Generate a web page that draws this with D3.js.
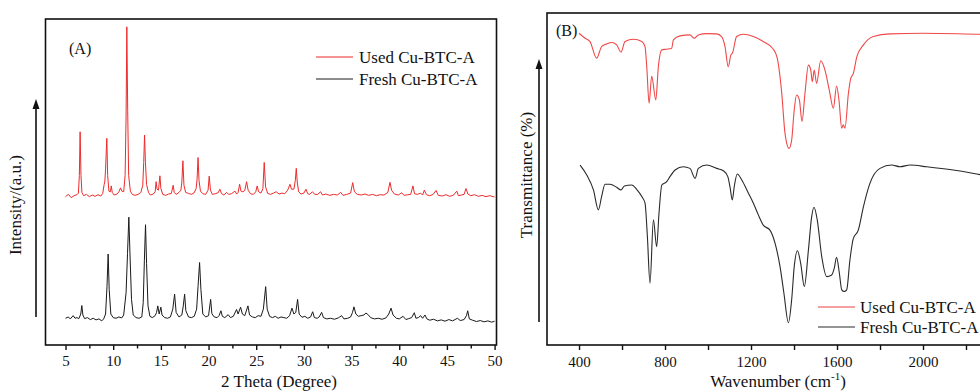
<!DOCTYPE html>
<html>
<head>
<meta charset="utf-8">
<script src="https://cdn.jsdelivr.net/npm/d3@7"></script>
<style>
  html, body { margin: 0; padding: 0; background: #fff; overflow: hidden; }
  svg { display: block; }
  text { font-family: "Times New Roman", "Liberation Serif", serif; fill: #111; }
</style>
</head>
<body>
<svg id="chart" width="980" height="391"></svg>
<script>
// ---- Panel A: XRD patterns (2θ in degrees, intensity in a.u.) ----
const usedXRD = [[5.0,455],[5.3,462],[5.6,452],[5.9,458],[6.2,461],[6.35,466],[6.45,520],[6.53,654],[6.62,520],[6.72,468],[6.9,458],[7.2,462],[7.5,455],[7.8,460],[8.1,456],[8.4,461],[8.7,457],[8.9,465],[9.05,492],[9.12,500],[9.2,540],[9.33,634],[9.42,520],[9.55,472],[9.7,470],[9.8,488],[9.9,468],[10.1,460],[10.4,463],[10.6,470],[10.77,482],[10.9,472],[11.1,470],[11.25,520],[11.35,700],[11.43,976],[11.52,720],[11.62,520],[11.8,472],[12.0,462],[12.3,459],[12.6,462],[12.9,468],[13.1,490],[13.2,560],[13.29,644],[13.38,560],[13.5,492],[13.7,468],[13.9,460],[14.2,463],[14.4,470],[14.5,501],[14.6,478],[14.75,475],[14.9,519],[15.0,480],[15.2,462],[15.5,459],[15.8,463],[16.1,465],[16.29,490],[16.4,468],[16.6,462],[16.9,468],[17.1,475],[17.2,500],[17.31,565],[17.42,490],[17.6,468],[17.9,465],[18.2,462],[18.5,467],[18.7,480],[18.8,510],[18.9,575],[19.0,505],[19.15,472],[19.4,464],[19.7,462],[19.95,475],[20.07,518],[20.2,475],[20.4,462],[20.7,464],[21.0,467],[21.19,478],[21.35,465],[21.6,460],[21.9,468],[22.1,462],[22.4,464],[22.77,472],[22.95,463],[23.1,468],[23.26,493],[23.4,472],[23.6,470],[23.8,474],[23.99,501],[24.15,475],[24.4,464],[24.7,462],[24.95,470],[25.1,488],[25.25,470],[25.5,466],[25.7,480],[25.84,560],[25.98,485],[26.2,465],[26.5,462],[26.8,466],[27.1,470],[27.4,463],[27.7,466],[28.0,464],[28.3,475],[28.54,493],[28.7,478],[28.95,478],[29.1,505],[29.2,542],[29.3,500],[29.45,470],[29.7,463],[30.0,466],[30.22,478],[30.4,464],[30.6,462],[30.9,470],[31.1,463],[31.4,461],[31.76,470],[31.95,460],[32.3,463],[32.7,459],[33.1,462],[33.5,460],[33.86,468],[34.1,459],[34.5,462],[34.9,466],[35.12,498],[35.3,470],[35.6,462],[36.0,460],[36.4,463],[36.8,459],[37.2,462],[37.6,458],[38.0,461],[38.4,460],[38.8,468],[39.03,499],[39.2,474],[39.5,463],[39.9,460],[40.26,467],[40.5,459],[40.9,461],[41.2,462],[41.44,488],[41.6,464],[41.9,462],[42.25,466],[42.45,460],[42.63,475],[42.85,461],[43.2,458],[43.55,462],[43.86,474],[44.1,459],[44.5,457],[44.9,461],[45.3,456],[45.7,460],[46.03,472],[46.2,458],[46.5,460],[46.8,462],[47.0,480],[47.2,463],[47.5,458],[47.9,461],[48.3,456],[48.7,459],[49.1,455],[49.5,458],[50.0,454]];

const freshXRD = [[5.0,82],[5.3,86],[5.5,80],[5.8,90],[6.0,82],[6.2,84],[6.4,81],[6.6,95],[6.71,121],[6.82,92],[7.0,81],[7.3,84],[7.6,78],[7.9,82],[8.2,77],[8.5,80],[8.8,74],[9.0,80],[9.2,95],[9.35,180],[9.47,279],[9.58,170],[9.75,95],[10.0,84],[10.3,82],[10.6,86],[10.9,83],[11.1,92],[11.35,160],[11.5,280],[11.64,392],[11.77,270],[11.92,140],[12.1,92],[12.4,84],[12.7,82],[13.0,86],[13.15,130],[13.27,260],[13.39,369],[13.5,250],[13.65,120],[13.85,88],[14.1,84],[14.4,90],[14.55,100],[14.68,120],[14.82,95],[15.0,116],[15.12,92],[15.4,84],[15.7,82],[16.0,86],[16.25,110],[16.44,156],[16.6,100],[16.9,86],[17.2,92],[17.35,120],[17.49,156],[17.62,105],[17.9,86],[18.2,84],[18.5,88],[18.75,110],[18.9,180],[19.06,253],[19.2,170],[19.4,95],[19.7,86],[20.0,90],[20.22,140],[20.35,96],[20.6,86],[20.9,84],[21.1,90],[21.3,105],[21.45,88],[21.7,84],[22.06,93],[22.3,84],[22.6,88],[22.94,109],[23.1,95],[23.36,116],[23.55,95],[23.8,90],[24.13,120],[24.3,92],[24.6,86],[24.9,84],[25.2,90],[25.5,88],[25.75,110],[25.99,179],[26.15,110],[26.4,88],[26.7,84],[27.0,88],[27.3,82],[27.6,86],[27.9,84],[28.2,82],[28.5,90],[28.75,113],[28.95,95],[29.15,100],[29.34,140],[29.5,95],[29.8,85],[30.1,88],[30.4,82],[30.7,86],[30.92,102],[31.1,84],[31.4,82],[31.6,86],[31.86,100],[32.05,84],[32.4,80],[32.8,82],[33.2,79],[33.6,83],[33.96,90],[34.2,80],[34.6,82],[34.9,86],[35.1,100],[35.25,117],[35.45,95],[35.7,88],[36.0,90],[36.3,92],[36.5,98],[36.7,94],[37.0,84],[37.4,80],[37.8,82],[38.2,79],[38.6,83],[38.9,95],[39.14,113],[39.35,92],[39.7,82],[40.0,80],[40.4,88],[40.7,78],[41.0,81],[41.3,84],[41.58,99],[41.75,82],[42.0,84],[42.25,90],[42.45,82],[42.7,92],[42.9,80],[43.2,76],[43.6,79],[44.0,74],[44.4,77],[44.8,73],[45.2,78],[45.6,74],[46.1,82],[46.4,75],[46.8,78],[47.05,90],[47.18,105],[47.35,80],[47.7,76],[48.1,72],[48.5,75],[48.9,71],[49.3,74],[49.7,70],[50.0,73]];

// ---- Panel B: FTIR spectra (wavenumber in cm-1, transmittance in %) ----
const usedIR = [[400,93.9],[428,92.4],[451,91.4],[482,86.4],[505,89.9],[529,90.7],[552,91.1],[575,90.4],[595,88.2],[614,91.4],[653,92.1],[692,91.4],[707,89.9],[715,83.8],[726,72.8],[738,81.0],[757,73.8],[769,83.8],[785,88.9],[808,89.1],[831,89.4],[839,91.9],[870,93.1],[916,93.4],[936,92.4],[955,93.4],[994,93.8],[1040,93.7],[1063,92.9],[1079,89.9],[1094,83.8],[1106,87.3],[1114,88.0],[1133,92.9],[1164,93.6],[1211,92.9],[1257,91.4],[1304,89.1],[1322,86.4],[1343,75.8],[1358,63.8],[1377,59.2],[1389,61.7],[1401,70.8],[1412,75.3],[1425,73.8],[1437,67.3],[1451,75.8],[1467,84.3],[1478,82.8],[1485,79.3],[1494,82.8],[1505,78.8],[1524,85.6],[1544,82.8],[1564,76.8],[1583,71.3],[1598,78.0],[1609,73.8],[1622,65.3],[1629,66.3],[1637,65.3],[1653,75.8],[1664,80.3],[1676,81.8],[1692,86.8],[1723,90.4],[1769,92.9],[1847,93.7],[2001,93.9],[2265,93.6],[2400,93.5]];

const freshIR = [[405,54.2],[436,51.2],[467,46.7],[490,40.7],[505,44.7],[521,48.4],[544,48.4],[575,47.5],[595,46.7],[611,47.9],[645,48.2],[668,46.9],[692,44.7],[707,42.7],[718,32.6],[730,18.6],[746,37.7],[761,29.6],[772,39.7],[785,48.2],[808,49.2],[823,50.7],[847,52.7],[885,53.7],[916,53.2],[940,50.2],[955,53.2],[994,54.2],[1040,53.2],[1071,52.5],[1092,50.7],[1102,47.7],[1113,43.7],[1122,47.7],[1136,51.5],[1157,49.7],[1188,45.7],[1211,42.7],[1234,39.2],[1257,36.1],[1288,34.6],[1312,30.6],[1335,23.6],[1353,15.6],[1374,6.7],[1389,13.6],[1401,23.6],[1416,28.4],[1431,24.6],[1448,17.6],[1467,28.6],[1482,38.6],[1493,41.5],[1508,37.7],[1529,26.6],[1552,20.6],[1575,21.1],[1587,23.1],[1598,26.4],[1611,21.6],[1622,16.6],[1633,16.1],[1645,16.6],[1660,25.6],[1676,32.1],[1699,34.6],[1723,41.7],[1753,48.7],[1800,53.2],[1854,54.2],[1893,53.7],[1940,54.2],[2017,53.7],[2141,52.7],[2250,51.5],[2400,49.8]];

const xrdTicks = [5,7.5,10,12.5,15,17.5,20,22.5,25,27.5,30,32.5,35,37.5,40,42.5,45,47.5,50];
const irTicks = [400,600,800,1000,1200,1400,1600,1800,2000,2200,2400];
const irLabels = [400,800,1200,1600,2000];
const seriesNames = ["Used Cu-BTC-A", "Fresh Cu-BTC-A"];

const svg = d3.select("#chart");

function arrowHead(g, x, yTip) {
  g.append("path")
    .attr("d", `M${x},${yTip} L${x - 3.5},${yTip + 10} L${x + 3.5},${yTip + 10} Z`)
    .attr("fill", "#111");
}

// ================= Panel A =================
const xA = d3.scaleLinear().domain([2.9, 50.2]).range([45.5, 496.5]);
const yA = d3.scaleLinear().domain([0, 1000]).range([345, 19]);
const gA = svg.append("g");

const lineA = d3.line().x(d => xA(d[0])).y(d => yA(d[1]));
gA.append("path").datum(usedXRD).attr("d", lineA)
  .attr("fill", "none").attr("stroke", "#ee2b2b").attr("stroke-width", 1).attr("stroke-linejoin", "round");
gA.append("path").datum(freshXRD).attr("d", lineA)
  .attr("fill", "none").attr("stroke", "#1a1a1a").attr("stroke-width", 1).attr("stroke-linejoin", "round");

const axA = gA.append("g").attr("transform", "translate(0,345)")
  .call(d3.axisBottom(xA).tickValues(xrdTicks).tickSizeOuter(0).tickSize(5).tickPadding(5)
    .tickFormat(d => d % 5 === 0 ? d3.format("d")(d) : ""));
axA.select(".domain").remove();
axA.selectAll(".tick line").attr("stroke", "#111").attr("stroke-width", 1.4)
  .attr("y2", d => d % 5 === 0 ? 5 : 3.5);
axA.selectAll(".tick text").attr("font-size", 15).attr("fill", "#111")
  .style("font-family", "'Times New Roman','Liberation Serif',serif");

gA.append("rect").attr("x", 45.5).attr("y", 19).attr("width", 451).attr("height", 326)
  .attr("fill", "none").attr("stroke", "#111").attr("stroke-width", 1.6);

gA.append("text").attr("x", 279).attr("y", 387).attr("text-anchor", "middle")
  .attr("font-size", 17).text("2 Theta (Degree)");
gA.append("text").attr("transform", "translate(21,205) rotate(-90)").attr("text-anchor", "middle")
  .attr("font-size", 17).text("Intensity/(a.u.)");
gA.append("line").attr("x1", 36).attr("x2", 36).attr("y1", 317).attr("y2", 106)
  .attr("stroke", "#111").attr("stroke-width", 1.6);
arrowHead(gA, 36, 99);
gA.append("text").attr("x", 69).attr("y", 54).attr("font-size", 16).text("(A)");

const legA = gA.append("g");
[["#ee2b2b", 57], ["#1a1a1a", 79]].forEach(([c, y], i) => {
  legA.append("line").attr("x1", 316).attr("x2", 353).attr("y1", y).attr("y2", y)
    .attr("stroke", c).attr("stroke-width", 1);
  legA.append("text").attr("x", 359).attr("y", y + 6).attr("font-size", 17).text(seriesNames[i]);
});

// ================= Panel B =================
const xB = d3.scaleLinear().domain([251, 2400]).range([547, 1009]);
const yB = d3.scaleLinear().domain([0, 100]).range([345, 13]);
const gB = svg.append("g");

const lineB = d3.line().curve(d3.curveMonotoneX).x(d => xB(d[0])).y(d => yB(d[1]));
gB.append("path").datum(usedIR).attr("d", lineB)
  .attr("fill", "none").attr("stroke", "#f04848").attr("stroke-width", 1.1);
gB.append("path").datum(freshIR).attr("d", lineB)
  .attr("fill", "none").attr("stroke", "#2a2a2a").attr("stroke-width", 1.1);

const axB = gB.append("g").attr("transform", "translate(0,345)")
  .call(d3.axisBottom(xB).tickValues(irTicks).tickSizeOuter(0).tickSize(5).tickPadding(6)
    .tickFormat(d => irLabels.includes(d) ? d3.format("d")(d) : ""));
axB.select(".domain").remove();
axB.selectAll(".tick line").attr("stroke", "#111").attr("stroke-width", 1.4);
axB.selectAll(".tick text").attr("font-size", 15).attr("fill", "#111")
  .style("font-family", "'Times New Roman','Liberation Serif',serif");

gB.append("rect").attr("x", 547).attr("y", 13).attr("width", 462).attr("height", 332)
  .attr("fill", "none").attr("stroke", "#111").attr("stroke-width", 1.6);

const wl = gB.append("text").attr("x", 778).attr("y", 387).attr("text-anchor", "middle").attr("font-size", 17);
wl.append("tspan").text("Wavenumber (cm");
wl.append("tspan").attr("dy", -7).attr("font-size", 11).text("-1");
wl.append("tspan").attr("dy", 7).text(")");

gB.append("text").attr("transform", "translate(532,175) rotate(-90)").attr("text-anchor", "middle")
  .attr("font-size", 17).text("Transmittance (%)");
gB.append("line").attr("x1", 539).attr("x2", 539).attr("y1", 322).attr("y2", 66)
  .attr("stroke", "#111").attr("stroke-width", 1.6);
arrowHead(gB, 539, 59);
gB.append("text").attr("x", 556).attr("y", 36).attr("font-size", 16).text("(B)");

const legB = gB.append("g");
[["#f4a0a0", 307, 2], ["#2a2a2a", 327, 1]].forEach(([c, y, w], i) => {
  legB.append("line").attr("x1", 818).attr("x2", 855).attr("y1", y).attr("y2", y)
    .attr("stroke", c).attr("stroke-width", w);
  legB.append("text").attr("x", 860).attr("y", y + 6).attr("font-size", 17).text(seriesNames[i]);
});
</script>
</body>
</html>
